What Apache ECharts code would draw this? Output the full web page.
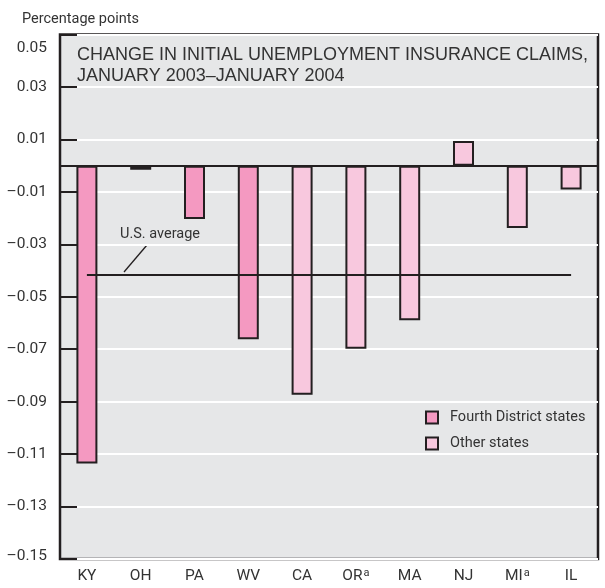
<!DOCTYPE html>
<html>
<head>
<meta charset="utf-8">
<script src="https://cdn.jsdelivr.net/npm/echarts@6/dist/echarts.min.js"></script>
<style>
  html, body { margin: 0; padding: 0; background: #fff; }
  #chart { width: 605px; height: 588px; }
</style>
</head>
<body>
<div id="chart"></div>
<script>
// states along the bottom, in drawing order
const categories = ['KY', 'OH', 'PA', 'WV', 'CA', 'OR', 'MA', 'NJ', 'MI', 'IL'];
const footnoted = ['OR', 'MI'];
// change in initial claims, percentage points
const fourthDistrict = [-0.1136, -0.0016, -0.0204, -0.0662, null, null, null, null, null, null];
const otherStates = [null, null, null, null, -0.0874, -0.0698, -0.0590, 0.0094, -0.0238, -0.0091];
const usAverage = -0.0415;

const ink = '#231f20';
const txt = '#333';
const narrow = 'Roboto, "Liberation Sans", sans-serif';
const fs = 15.5;   // digits and state codes
const fsw = 14.5;  // words

function fmtTick(v) {
    const s = Math.abs(v).toFixed(2);
    const lbl = v < 0 ? '\u2013' + s : s;
    if (v > 0.049) return '{top|' + lbl + '}';
    if (v < -0.149) return '{bot|' + lbl + '}';
    return lbl;
}

function fmtState(v) {
    return '{b|' + v + '}' + (footnoted.indexOf(v) >= 0 ? '{sup|a}' : '');
}

const chart = echarts.init(document.getElementById('chart'), null, { renderer: 'canvas' });

const option = {
    animation: false,
    backgroundColor: '#fff',
    title: [{
        text: 'CHANGE IN INITIAL UNEMPLOYMENT INSURANCE CLAIMS,\nJANUARY 2003\u2013JANUARY 2004',
        left: 72, top: 40,
        textStyle: { fontFamily: '"Liberation Sans", Arial, sans-serif', fontSize: 18, fontWeight: 'normal', color: txt, lineHeight: 21 }
    }, {
        text: 'Percentage points',
        left: 17, top: 7,
        textStyle: { fontFamily: narrow, fontSize: fsw, fontWeight: 'normal', color: txt }
    }],
    legend: {
        orient: 'vertical',
        left: 420, top: 404,
        itemWidth: 12, itemHeight: 12, itemGap: 9,
        icon: 'rect',
        data: ['Fourth District states', 'Other states'],
        textStyle: { fontFamily: narrow, fontSize: fsw, color: txt, lineHeight: 17, padding: [0, 0, 0, 7] }
    },
    grid: {
        left: 60, right: 7, top: 34.5, bottom: 29,
        show: true, backgroundColor: '#e6e7e8', borderColor: ink, borderWidth: 2.5
    },
    xAxis: {
        type: 'category',
        data: categories,
        axisLine: { show: false },
        axisTick: { show: false },
        axisLabel: {
            interval: 0,
            margin: 9,
            color: txt,
            formatter: fmtState,
            rich: {
                b: { fontFamily: narrow, fontSize: fs, color: txt, lineHeight: 18, verticalAlign: 'top' },
                sup: { fontFamily: narrow, fontSize: 11, color: txt, lineHeight: 6, verticalAlign: 'top', padding: [0, 0, 0, 1] }
            }
        }
    },
    yAxis: {
        type: 'value',
        min: -0.15, max: 0.05, interval: 0.02,
        axisLine: { show: false },
        axisTick: { show: true, inside: true, length: 17, lineStyle: { color: ink, width: 2 } },
        splitLine: { show: true, lineStyle: { color: '#fff', width: 2 } },
        axisLabel: {
            margin: 13,
            fontFamily: narrow, fontSize: fs, color: txt,
            formatter: fmtTick,
            rich: {
                top: { fontFamily: narrow, fontSize: fs, color: txt, padding: [27, 0, 0, 0] },
                bot: { fontFamily: narrow, fontSize: fs, color: txt, padding: [0, 0, 6, 0] }
            }
        }
    },
    series: [{
        name: 'Fourth District states',
        type: 'bar',
        stack: 'all',
        barWidth: 21,
        data: fourthDistrict,
        itemStyle: { color: '#f499c1', borderColor: ink, borderWidth: 2 }
    }, {
        name: 'Other states',
        type: 'bar',
        stack: 'all',
        barWidth: 21,
        data: otherStates,
        itemStyle: { color: '#f8c8de', borderColor: ink, borderWidth: 2 },
        markLine: {
            silent: true,
            symbol: 'none',
            label: { show: false },
            lineStyle: { color: ink, width: 2, type: 'solid' },
            data: [
                { yAxis: 0 },
                [{ coord: [categories[0], usAverage] }, { coord: [categories[categories.length - 1], usAverage] }]
            ]
        }
    }],
    graphic: [{
        type: 'text',
        left: 120, top: 227,
        style: { text: 'U.S. average', fontFamily: narrow, fontSize: fsw, fill: txt }
    }, {
        type: 'line',
        shape: { x1: 147, y1: 245, x2: 124, y2: 272 },
        style: { stroke: ink, lineWidth: 1.3 }
    }]
};

chart.setOption(option);
</script>
</body>
</html>
